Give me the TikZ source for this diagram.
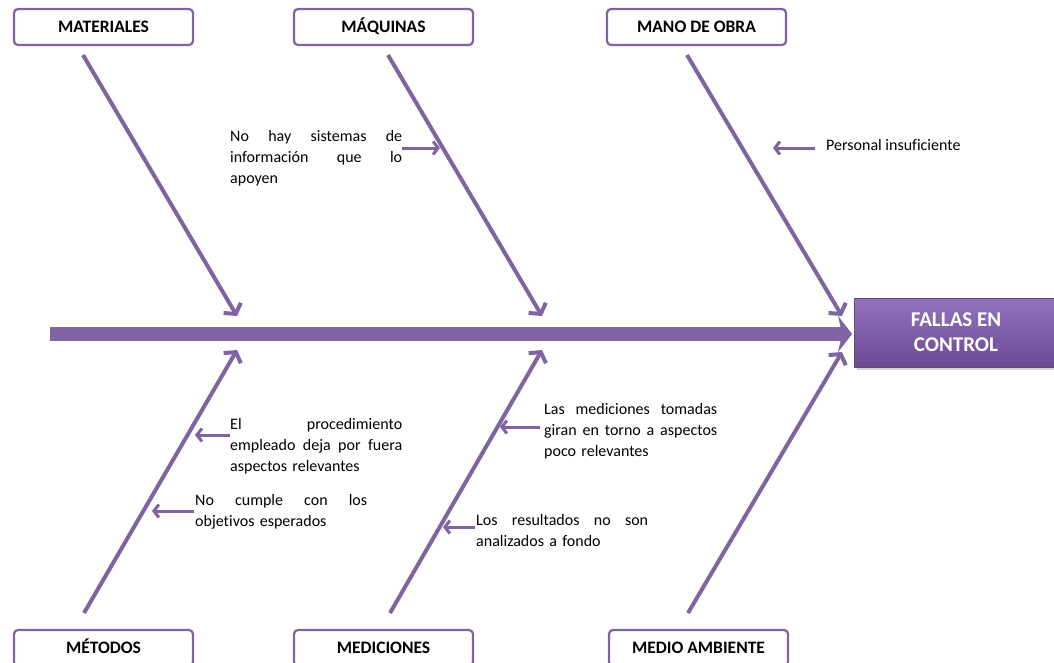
\documentclass[tikz,border=0pt]{standalone}
\usepackage{fontspec}
\setmainfont{Carlito}[Ligatures=NoCommon]
\usetikzlibrary{arrows.meta,shadows}
\definecolor{purp}{HTML}{8064A2}
\definecolor{purpdark}{HTML}{5E4A7E}
\definecolor{efftop}{HTML}{9274BC}
\definecolor{effbot}{HTML}{6A4A93}
\newcommand{\jline}[2]{\makebox[#1][s]{\spaceskip=.25em plus 1fil\relax #2}}
\begin{document}
\begin{tikzpicture}[x=1pt,y=-1pt,
  cat/.style={draw=purp, line width=2.2pt, rounded corners=4pt, fill=white,
    minimum width=179pt, minimum height=36pt, inner sep=0pt,
    text height=13pt, text depth=2pt,
    font=\bfseries\fontsize{17.5}{20}\selectfont},
  effect/.style={draw=purpdark, line width=0.8pt, top color=efftop, bottom color=effbot,
    text=white, font=\bfseries\fontsize{21}{25}\selectfont, align=center,
    minimum width=203pt, minimum height=69pt, inner sep=0pt,
    drop shadow={opacity=0.35, shadow xshift=2pt, shadow yshift=-3pt}},
  spine/.style={draw=purp, line width=14pt, -{Stealth[length=14pt,width=36pt,inset=4pt]}},
  bone/.style={draw=purp, line width=4pt, -{Straight Barb[length=7pt,width=20pt]}},
  sub/.style={draw=purp, line width=3pt, -{Straight Barb[length=5pt,width=13pt]}},
  cause/.style={anchor=base west, inner sep=0pt, align=left,
    font=\fontsize{16}{21}\selectfont, text=black}]
\useasboundingbox (0,0) rectangle (1054,662);

% category boxes
\node[cat] (mat) at (103.5,27) {MATERIALES};
\node[cat] (maq) at (383.5,27) {MÁQUINAS};
\node[cat] (mano) at (696.5,27) {MANO DE OBRA};
\node[cat] (met) at (103.5,648) {MÉTODOS};
\node[cat] (med) at (383.5,648) {MEDICIONES};
\node[cat] (amb) at (698.5,648) {MEDIO AMBIENTE};

% effect
\node[effect] (eff) at (956,332.5) {FALLAS EN\\CONTROL};

% spine
\coordinate (tail) at (50,334);
\draw[spine, shorten >=2pt] (tail) -- (tail -| eff.west);

% bones
\coordinate (b1s) at (83,55);   \coordinate (b1e) at (237,316);
\coordinate (b2s) at (388,55);  \coordinate (b2e) at (542,316);
\coordinate (b3s) at (687,55);  \coordinate (b3e) at (842,316);
\coordinate (b4s) at (84,613);  \coordinate (b4e) at (237,350);
\coordinate (b5s) at (390,613); \coordinate (b5e) at (542,350);
\coordinate (b6s) at (688,613); \coordinate (b6e) at (842,352);
\draw[bone] (b1s) -- (b1e);
\draw[bone] (b2s) -- (b2e);
\draw[bone] (b3s) -- (b3e);
\draw[bone] (b4s) -- (b4e);
\draw[bone] (b5s) -- (b5e);
\draw[bone] (b6s) -- (b6e);

% causes
\node[cause, text width=172pt] (c1) at (230,141)
  {\jline{172pt}{No hay sistemas de}\\\jline{172pt}{información que lo}\\apoyen};
\coordinate (a1s) at (402,148); \coordinate (a1e) at (440,148);
\draw[sub] (a1s) -- (a1e);

\node[cause] (c2) at (826,150) {Personal insuficiente};
\coordinate (a2s) at (815,148); \coordinate (a2e) at (773,148);
\draw[sub] (a2s) -- (a2e);

\node[cause, text width=172pt] (c3) at (230,429)
  {\jline{172pt}{El procedimiento}\\\jline{172pt}{empleado deja por fuera}\\aspectos relevantes};
\coordinate (a3s) at (230,435); \coordinate (a3e) at (195,435);
\draw[sub] (a3s) -- (a3e);

\node[cause, text width=172pt] (c4) at (195,505)
  {\jline{172pt}{No cumple con los}\\objetivos esperados};
\coordinate (a4s) at (194,511); \coordinate (a4e) at (152,511);
\draw[sub] (a4s) -- (a4e);

\node[cause, text width=173pt] (c5) at (544,414)
  {\jline{173pt}{Las mediciones tomadas}\\\jline{173pt}{giran en torno a aspectos}\\poco relevantes};
\coordinate (a5s) at (540,427); \coordinate (a5e) at (500,427);
\draw[sub] (a5s) -- (a5e);

\node[cause, text width=172pt] (c6) at (476,525)
  {\jline{172pt}{Los resultados no son}\\analizados a fondo};
\coordinate (a6s) at (475,527); \coordinate (a6e) at (443,527);
\draw[sub] (a6s) -- (a6e);
\end{tikzpicture}
\end{document}
